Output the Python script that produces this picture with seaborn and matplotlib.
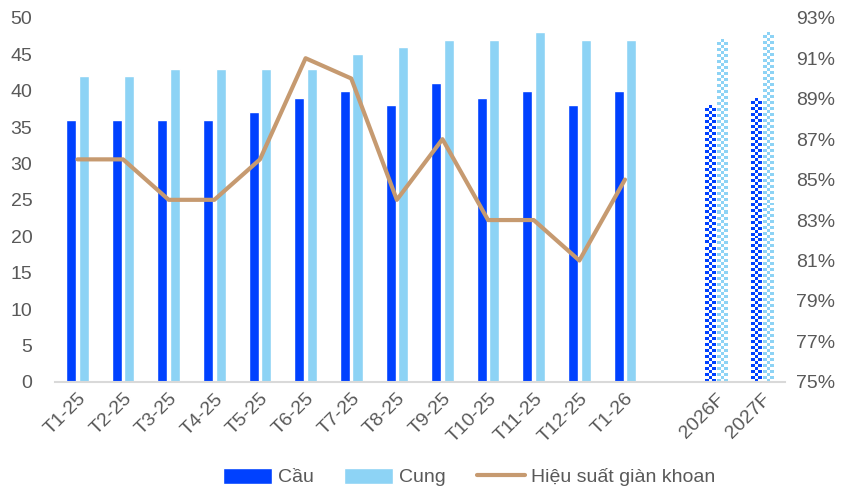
import pandas as pd
import numpy as np
import matplotlib
matplotlib.use("Agg")
import matplotlib.pyplot as plt
import seaborn as sns
from matplotlib.patches import Patch
from matplotlib.lines import Line2D
from matplotlib.colors import ListedColormap

# Données
categories = ["T1-25", "T2-25", "T3-25", "T4-25", "T5-25", "T6-25", "T7-25", "T8-25",
              "T9-25", "T10-25", "T11-25", "T12-25", "T1-26", " ", "2026F", "2027F"]
cau = [36, 36, 36, 36, 37, 39, 40, 38, 41, 39, 40, 38, 40, np.nan, 38, 39]
cung = [42, 42, 43, 43, 43, 43, 45, 46, 47, 47, 48, 47, 47, np.nan, 47, 48]
hieu_suat = [86, 86, 84, 84, 86, 91, 90, 84, 87, 83, 83, 81, 85]

c_cau = "#0041FF"
c_cung = "#8DD3F5"
c_line = "#C69A70"
c_text = "#595959"

df = pd.DataFrame({"Mois": categories * 2,
                   "Valeur": cau + cung,
                   "Serie": ["Cầu"] * len(categories) + ["Cung"] * len(categories)})

sns.set_style("white")
plt.rcParams["font.family"] = ["Liberation Sans", "DejaVu Sans"]

fig = plt.figure(figsize=(8.41, 4.94), dpi=100)
ax = fig.add_axes([0.065, 0.227, 0.868, 0.737])

sns.barplot(data=df, x="Mois", y="Valeur", hue="Serie", order=categories,
            palette={"Cầu": c_cau, "Cung": c_cung}, width=0.55, gap=0.2,
            ax=ax, legend=False, saturation=1)

ax.set_ylim(0, 50)
ax.set_xlim(-0.5, len(categories) - 0.5)

# barres prévisionnelles en damier
for p in list(ax.patches):
    if p.get_x() > 13:
        col = p.get_facecolor()
        x0, y0, w, h = p.get_x(), p.get_y(), p.get_width(), p.get_height()
        (px0, py0), (px1, py1) = ax.transData.transform([(x0, y0), (x0 + w, y0 + h)])
        nx = max(1, int(round((px1 - px0) / 3)))
        ny = max(1, int(round((py1 - py0) / 3)))
        damier = np.add.outer(np.arange(ny), np.arange(nx)) % 2
        ax.imshow(damier, extent=[x0, x0 + w, y0, y0 + h], aspect="auto",
                  cmap=ListedColormap(["white", col]), interpolation="nearest",
                  zorder=p.get_zorder())
        p.set_visible(False)

ax.set_ylim(0, 50)
ax.set_xlim(-0.5, len(categories) - 0.5)
ax.set_yticks(range(0, 51, 5))
ax.set_xlabel("")
ax.set_ylabel("")
ax.tick_params(axis="y", labelsize=14, colors=c_text, length=0, pad=16)
ax.tick_params(axis="x", labelsize=14, colors=c_text, length=0, pad=6)
for lab in ax.get_xticklabels():
    lab.set_rotation(45)
    lab.set_ha("right")
    lab.set_rotation_mode("anchor")
for s in ["left", "right", "top"]:
    ax.spines[s].set_visible(False)
ax.spines["bottom"].set_color("#D9D9D9")
ax.spines["bottom"].set_linewidth(1.5)

# axe secondaire : hiệu suất
ax2 = ax.twinx()
sns.lineplot(x=np.arange(len(hieu_suat)), y=hieu_suat, color=c_line, linewidth=3, ax=ax2)
ax2.set_ylim(75, 93)
ax2.set_yticks(range(75, 94, 2))
ax2.set_yticklabels([f"{v}%" for v in range(75, 94, 2)])
ax2.tick_params(axis="y", labelsize=14, colors=c_text, length=0, pad=8)
for s in ax2.spines.values():
    s.set_visible(False)

handles = [Patch(facecolor=c_cau, label="Cầu"),
           Patch(facecolor=c_cung, label="Cung"),
           Line2D([0], [0], color=c_line, linewidth=3, label="Hiệu suất giàn khoan")]
fig.legend(handles=handles, loc="lower center", bbox_to_anchor=(0.558, -0.02), ncol=3,
           frameon=False, fontsize=14, handlelength=2.5, handleheight=0.9,
           handletextpad=0.3, columnspacing=1.6, labelcolor=c_text)

fig.savefig("out.png", dpi=100)
